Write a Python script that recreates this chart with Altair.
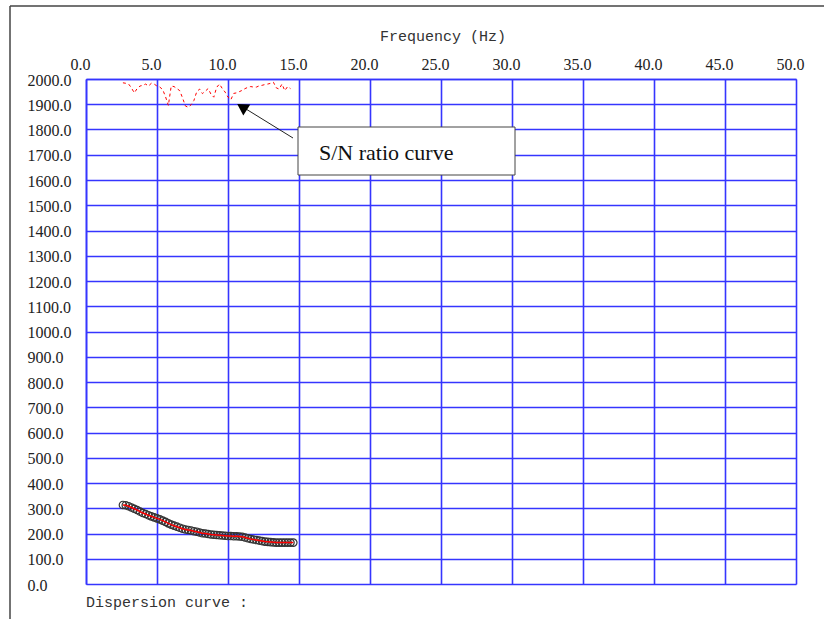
import altair as alt
import pandas as pd

# ---- data ----
sn_freq = [2.6, 2.8, 3.0, 3.2, 3.4, 3.6, 3.8, 4.0, 4.2, 4.4, 4.6, 4.8, 5.0, 5.2, 5.4, 5.6,
           5.8, 6.0, 6.2, 6.4, 6.6, 6.8, 7.0, 7.2, 7.4, 7.6, 7.8, 8.0, 8.2, 8.4, 8.6, 8.8,
           9.0, 9.2, 9.4, 9.6, 9.8, 10.0, 10.2, 10.4, 10.6, 10.8, 11.0, 11.2, 11.4, 11.6,
           11.8, 12.0, 12.2, 12.4, 12.6, 12.8, 13.0, 13.2, 13.4, 13.6, 13.8, 14.0, 14.2, 14.4]
sn_value = [1985, 1983, 1980, 1965, 1945, 1962, 1972, 1975, 1980, 1972, 1983, 1980, 1972, 1968,
            1958, 1930, 1895, 1972, 1970, 1962, 1954, 1925, 1893, 1888, 1898, 1915, 1950, 1960,
            1942, 1952, 1962, 1940, 1928, 1967, 1980, 1962, 1948, 1928, 1918, 1943, 1945, 1950,
            1955, 1962, 1967, 1970, 1968, 1968, 1973, 1975, 1978, 1980, 1983, 1987, 1965, 1960,
            1980, 1954, 1970, 1962]

disp_freq = [2.6, 2.8, 3.0, 3.2, 3.4, 3.6, 3.8, 4.0, 4.2, 4.4, 4.6, 4.8, 5.0, 5.2, 5.4, 5.6,
             5.8, 6.0, 6.2, 6.4, 6.6, 6.8, 7.0, 7.2, 7.4, 7.6, 7.8, 8.0, 8.2, 8.4, 8.6, 8.8,
             9.0, 9.2, 9.4, 9.6, 9.8, 10.0, 10.2, 10.4, 10.6, 10.8, 11.0, 11.2, 11.4, 11.6,
             11.8, 12.0, 12.2, 12.4, 12.6, 12.8, 13.0, 13.2, 13.4, 13.6, 13.8, 14.0, 14.2,
             14.4, 14.6]
disp_value = [313, 312, 308, 303, 298, 293, 287, 281, 277, 272, 268, 264, 260, 256, 251, 246,
              240, 235, 231, 227, 223, 219, 216, 214, 212, 209, 207, 204, 201, 200, 198, 196,
              195, 194, 193, 192, 191, 190, 190, 189, 189, 188, 187, 184, 181, 178, 176, 174,
              172, 170, 168, 167, 166, 165, 164, 164, 164, 164, 164, 164, 164]

x_ticks = [0, 5, 10, 15, 20, 25, 30, 35, 40, 45, 50]
y_ticks = list(range(0, 2100, 100))

x_title = "Frequency (Hz)"
bottom_text = "Dispersion curve :"
note_text = "S/N ratio curve"

sn_df = pd.DataFrame({"f": sn_freq, "v": sn_value})
disp_df = pd.DataFrame({"f": disp_freq, "v": disp_value})
one = pd.DataFrame({"k": [0]})

BLUE = "#3535ff"
SERIF = "Liberation Serif"
W, H = 710, 505

xs = alt.Scale(domain=[0, 50], nice=False, zero=False)
ys = alt.Scale(domain=[0, 2000], nice=False, zero=False)

x_axis = alt.Axis(orient="top", values=x_ticks, format=".1f", title=None,
                  grid=True, gridColor=BLUE, gridWidth=1.6, gridOpacity=1,
                  domainColor=BLUE, domainWidth=1.6, ticks=False, tickSize=0,
                  labelFont=SERIF, labelFontSize=16, labelColor="#222",
                  labelBaseline="alphabetic", labelPadding=10, labelOffset=-6,
                  labelOverlap=False, labelFlush=False)
y_axis = alt.Axis(values=y_ticks, format=".1f", title=None,
                  grid=True, gridColor=BLUE, gridWidth=1.6, gridOpacity=1,
                  domainColor=BLUE, domainWidth=1.6, ticks=False, tickSize=0,
                  labelFont=SERIF, labelFontSize=16, labelColor="#222",
                  labelAlign="left", labelPadding=59, labelBaseline="middle", labelOffset=1,
                  labelOverlap=False, labelFlush=False)

X = alt.X("f:Q", scale=xs, axis=x_axis)
Y = alt.Y("v:Q", scale=ys, axis=y_axis)

sn_line = alt.Chart(sn_df).mark_line(color="red", strokeWidth=1, strokeDash=[3, 3]).encode(
    x=X, y=Y)
disp_pts = alt.Chart(disp_df).mark_point(shape="circle", filled=False, color="#333",
                                          strokeWidth=1.2, size=55, opacity=1).encode(
    x=X, y=Y)
disp_line = alt.Chart(disp_df).mark_line(color="red", strokeWidth=1.5).encode(x=X, y=Y)

ox, oy = 86, 79  # plot origin in page pixels

box = alt.Chart(one).mark_rect(fill="white", stroke="#444", strokeWidth=1).encode(
    x=alt.value(298 - ox), x2=alt.value(515 - ox),
    y=alt.value(127 - oy), y2=alt.value(175 - oy))
note = alt.Chart(one).mark_text(text=note_text, font=SERIF, fontSize=22,
                                align="left", baseline="middle", color="#111").encode(
    x=alt.value(319 - ox), y=alt.value(153 - oy))
arrow_line = alt.Chart(one).mark_rule(color="#222", strokeWidth=1).encode(
    x=alt.value(293 - ox), y=alt.value(138 - oy),
    x2=alt.value(246 - ox), y2=alt.value(109 - oy))
arrow_head = alt.Chart(one).mark_point(shape="triangle-up", filled=True, color="black",
                                       size=170, angle=302, opacity=1).encode(
    x=alt.value(242 - ox), y=alt.value(107 - oy))

title = alt.Chart(one).mark_text(text=x_title, font="Liberation Mono", fontSize=15,
                                 align="center", baseline="middle", color="#333").encode(
    x=alt.value(443 - ox), y=alt.value(36 - oy))
bottom = alt.Chart(one).mark_text(text=bottom_text, font="Liberation Mono", fontSize=15,
                                  align="left", baseline="middle", color="#333").encode(
    x=alt.value(86 - ox), y=alt.value(602 - oy))

frame_top = alt.Chart(one).mark_rule(color="#444", strokeWidth=1.5).encode(
    x=alt.value(10 - ox), x2=alt.value(824 - ox), y=alt.value(6 - oy))
frame_left = alt.Chart(one).mark_rule(color="#444", strokeWidth=1.5).encode(
    x=alt.value(10 - ox), y=alt.value(6 - oy), y2=alt.value(619 - oy))

chart = alt.layer(
    sn_line, disp_pts, disp_line, arrow_line, arrow_head, box, note, title, bottom,
    frame_top, frame_left,
).properties(
    width=W, height=H,
    autosize=alt.AutoSizeParams(type="none"),
    padding={"left": ox, "top": oy, "right": 824 - ox - W, "bottom": 619 - oy - H},
    background="white",
).configure_view(
    stroke=BLUE, strokeWidth=1.6
).configure_axis(
    labelFont=SERIF, labelFlush=False, labelFontSize=16
).configure(font=SERIF)

chart.save("out.html", embed_options={"renderer": "svg", "actions": False})
